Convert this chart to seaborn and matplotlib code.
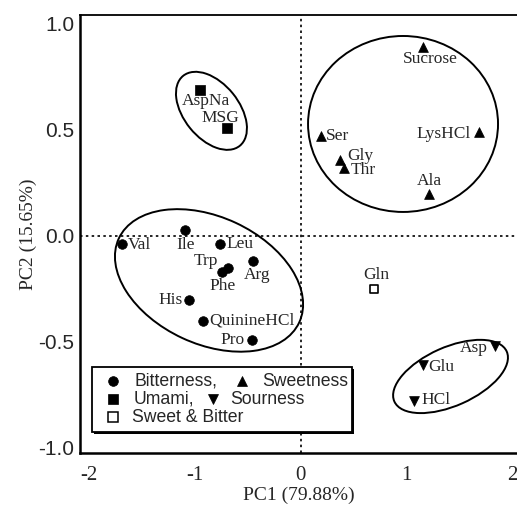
import numpy as np
import pandas as pd
import matplotlib
matplotlib.use("Agg")
import matplotlib.pyplot as plt
import seaborn as sns
from matplotlib.patches import Ellipse, Rectangle
from matplotlib.transforms import Affine2D

# ---------------- data ----------------
names = ["Val", "Ile", "Leu", "Trp", "Phe", "Arg", "His", "QuinineHCl", "Pro",
         "AspNa", "MSG",
         "Sucrose", "Ser", "Gly", "Thr", "LysHCl", "Ala",
         "Gln",
         "Asp", "Glu", "HCl"]
pc1 = [-1.69, -1.09, -0.76, -0.69, -0.74, -0.45, -1.05, -0.92, -0.46,
       -0.95, -0.70,
       1.15, 0.19, 0.37, 0.41, 1.68, 1.21,
       0.69,
       1.83, 1.15, 1.07]
pc2 = [-0.04, 0.03, -0.04, -0.15, -0.17, -0.12, -0.30, -0.40, -0.49,
       0.69, 0.51,
       0.89, 0.47, 0.36, 0.32, 0.49, 0.20,
       -0.25,
       -0.52, -0.61, -0.78]
taste = ["Bitterness"] * 9 + ["Umami"] * 2 + ["Sweetness"] * 6 + ["Sweet & Bitter"] + ["Sourness"] * 3

x_label = "PC1 (79.88%)"
y_label = "PC2 (15.65%)"
x_ticks = [-2, -1, 0, 1, 2]
y_tick_values = [1.0, 0.5, 0.0, -0.5, -1.0]
y_tick_labels = ["1.0", "0.5", "0.0", "-0.5", "-1.0"]

df = pd.DataFrame({"name": names, "PC1": pc1, "PC2": pc2, "taste": taste})

# ---------------- layout / style ----------------
W, H = 517, 507
def fx(px): return px / W
def fy(py): return 1 - py / H

sns.set_style("white")
plt.rcParams["font.family"] = ["Liberation Serif", "DejaVu Serif"]

fig = plt.figure(figsize=(W / 100, H / 100), dpi=100)
ax = fig.add_axes([fx(80), fy(453), fx(517) - fx(80), fy(15) - fy(453)])
ax.set_xlim(-2.082, 2.04)
ax.set_ylim(-1.024, 1.042)

# dotted zero lines
ax.axhline(0, color="black", lw=1.2, ls=(0, (1.5, 2.0)), zorder=1)
ax.axvline(0, color="black", lw=1.2, ls=(0, (1.5, 2.0)), zorder=1)

# group ellipses (centre x, centre y, width, height in x-units, angle)
k = 2.0  # pixel ratio y-unit / x-unit
ellipses = [(-0.842, 0.590, 0.849, 0.519, -51),
            (-0.865, -0.210, 1.877, 1.198, -25),
            (0.965, 0.528, 1.792, 1.660, 0),
            (1.413, -0.663, 1.160, 0.553, 24)]
for cx, cy, w, h, ang in ellipses:
    e = Ellipse((cx, cy * k), w, h, angle=ang, fill=False, ec="black", lw=1.4,
                transform=Affine2D().scale(1, 1 / k) + ax.transData, zorder=2)
    ax.add_patch(e)

styles = {"Bitterness": dict(marker="o", s=48, color="black"),
          "Umami": dict(marker="s", s=52, color="black"),
          "Sweetness": dict(marker="^", s=50, color="black"),
          "Sourness": dict(marker="v", s=50, color="black"),
          "Sweet & Bitter": dict(marker="s", s=34, facecolor="white", edgecolor="black")}
for t, st in styles.items():
    sub = df[df["taste"] == t]
    kw = dict(st)
    if "facecolor" in kw:
        sns.scatterplot(data=sub, x="PC1", y="PC2", ax=ax, marker=kw["marker"], s=kw["s"],
                        facecolor="white", edgecolor="black", linewidth=1.2, zorder=3, legend=False)
    else:
        sns.scatterplot(data=sub, x="PC1", y="PC2", ax=ax, marker=kw["marker"], s=kw["s"],
                        color="black", edgecolor="black", linewidth=0.5, zorder=3, legend=False)

# label placement (offset in pixels, horizontal alignment)
label_pos = {"Val": (6, -1, "left"), "Ile": (0, -15, "center"), "Leu": (6, 0, "left"),
             "Trp": (-22, 7, "center"), "Phe": (0, -14, "center"), "Arg": (4, -14, "center"),
             "His": (-7, 0, "right"), "QuinineHCl": (6, 0, "left"), "Pro": (-7, 0, "right"),
             "AspNa": (6, -11, "center"), "MSG": (-6, 10, "center"),
             "Sucrose": (8, -12, "center"), "Ser": (5, 0, "left"), "Gly": (7, 4, "left"),
             "Thr": (6, -2, "left"), "LysHCl": (-8, -2, "right"), "Ala": (0, 13, "center"),
             "Gln": (2, 14, "center"),
             "Asp": (-7, -2, "right"), "Glu": (6, -2, "left"), "HCl": (7, 1, "left")}
for n, x, y in zip(names, pc1, pc2):
    dx, dy, ha = label_pos[n]
    ax.annotate(n, (x, y), xytext=(dx, dy), textcoords="offset pixels",
                ha=ha, va="center", fontsize=12.5, zorder=4)

# axes, ticks
for side in ["left", "bottom"]:
    ax.spines[side].set_linewidth(1.8)
    ax.spines[side].set_color("black")
ax.spines["top"].set_linewidth(1.3)
ax.spines["top"].set_color("black")
ax.spines["right"].set_visible(False)

ax.set_xticks(x_ticks)
ax.set_xticklabels([str(v) for v in x_ticks])
ax.set_yticks(y_tick_values)
ax.set_yticklabels(y_tick_labels)
ax.tick_params(axis="both", direction="in", length=9.5, width=1.3, color="black")
ax.tick_params(axis="x", pad=9, labelsize=15)
ax.tick_params(axis="y", pad=4, labelsize=15)
for lab in ax.get_yticklabels():
    lab.set_fontfamily(["Liberation Sans", "DejaVu Sans"])
ax.set_xlabel(x_label, fontsize=14, labelpad=1.5)
ax.set_ylabel(y_label, fontsize=14, labelpad=1)

# legend box (manual, to match the inline layout)
tf = fig.transFigure
ax.add_patch(Rectangle((fx(93.5), fy(433.5)), fx(353.5) - fx(93.5), fy(368.5) - fy(433.5),
                       transform=tf, fc="black", ec="black", lw=0, zorder=9, clip_on=False))
ax.add_patch(Rectangle((fx(92), fy(432)), fx(352) - fx(92), fy(367) - fy(432),
                       transform=tf, fc="white", ec="black", lw=1.3, zorder=10, clip_on=False))
leg_font = dict(fontsize=12.7, family=["Liberation Sans", "DejaVu Sans"], va="center",
                ha="left", transform=tf, zorder=11)
leg_items = [("o", "black", 113, 381, "Bitterness,", 134),
             ("^", "black", 242, 381, "Sweetness", 262),
             ("s", "black", 113, 399, "Umami,", 134),
             ("v", "black", 213, 399, "Sourness", 230),
             ("s", "white", 113, 417, "Sweet & Bitter", 132)]
for m, fc, mx, my, txt, tx in leg_items:
    ax.plot([fx(mx)], [fy(my)], marker=m, ms=7 if fc == "black" else 6.5,
            mfc=fc, mec="black", mew=1.1 if fc == "white" else 0.5,
            transform=tf, clip_on=False, zorder=11, ls="none")
    ax.text(fx(tx), fy(my), txt, **leg_font)

fig.savefig("out.png", dpi=100)
